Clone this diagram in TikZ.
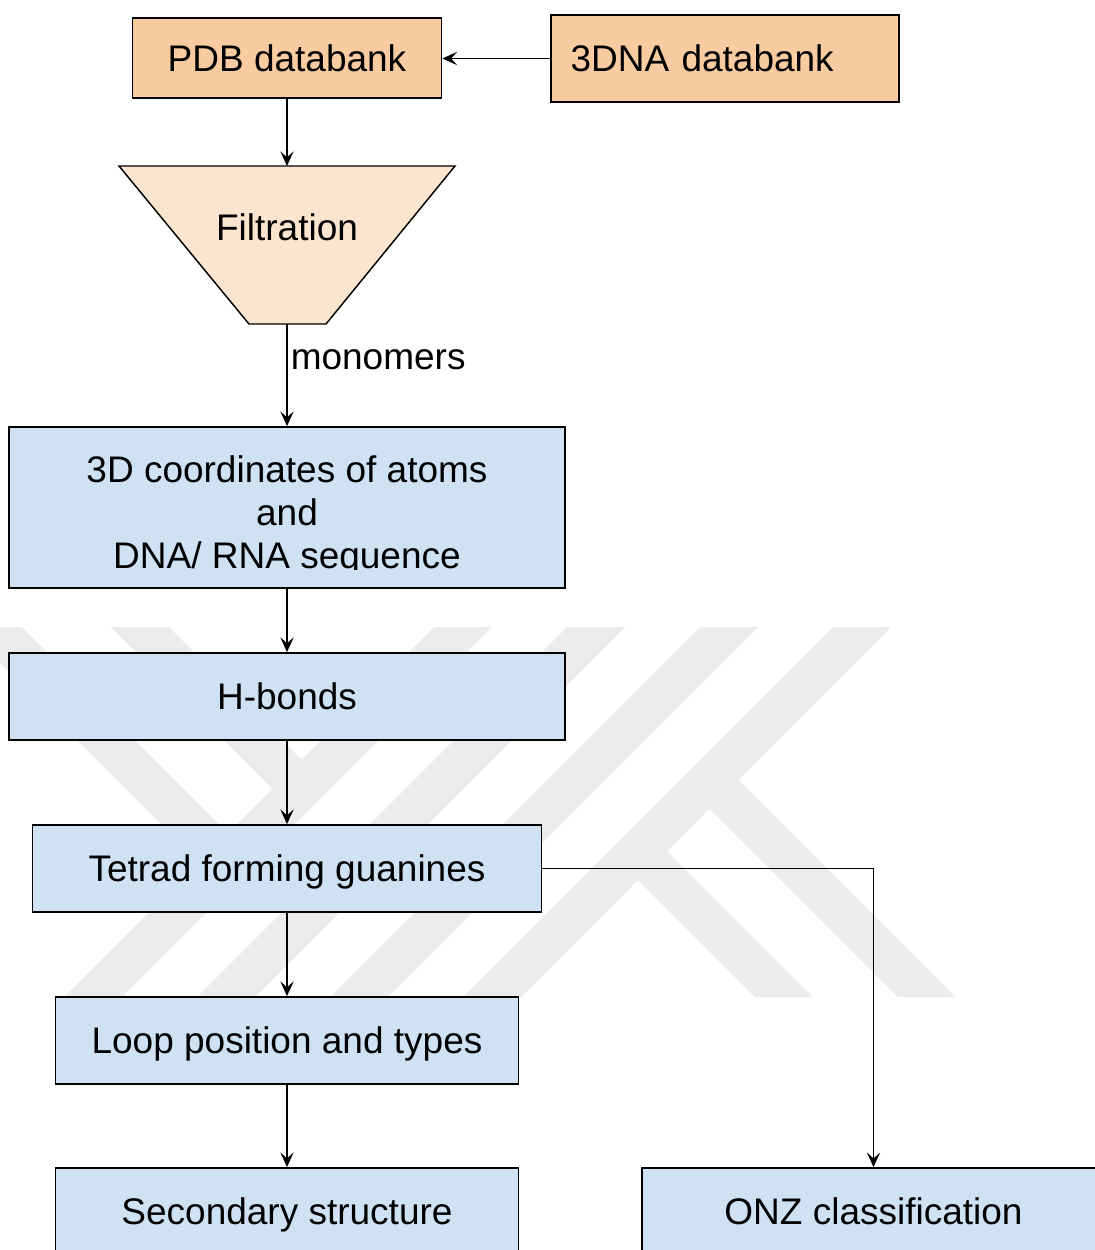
\documentclass[tikz,border=0pt]{standalone}
\usepackage{fontspec}
\setmainfont{Liberation Sans}
\usetikzlibrary{arrows.meta}
\definecolor{pdbfill}{RGB}{248,203,160}
\definecolor{filtfill}{RGB}{251,229,206}
\definecolor{stepfill}{RGB}{207,226,243}
\definecolor{markgray}{RGB}{236,236,236}
\begin{document}
\begin{tikzpicture}[x=0.75pt,y=-0.75pt,
  txt/.style={font=\fontsize{27.75pt}{32pt}\selectfont},
  flowbox/.style={txt, draw=black, line width=1.4pt, rectangle, inner sep=0pt,
                  text height=19.9pt, text depth=0pt},
  bluebox/.style={flowbox, fill=stepfill, minimum height=65.25pt},
  lbl/.style={txt, inner sep=0pt},
  conn/.style={line width=0.9pt, -{Stealth[length=11pt,width=10pt,inset=4.5pt]}},
  wm/.style={fill=markgray, draw=none}]

\useasboundingbox (0,0) rectangle (1095,1250);
\clip (0,0) rectangle (1095,1250);

% background emblem: diagonal bands
\fill[wm] (434,627) -- (492,627) -- (122,997) -- (64,997) -- cycle;
\fill[wm] (567,627) -- (625,627) -- (255,997) -- (197,997) -- cycle;
\fill[wm] (700,627) -- (758,627) -- (388,997) -- (330,997) -- cycle;
\fill[wm] (833,627) -- (891,627) -- (521,997) -- (463,997) -- cycle;
\fill[wm] (724,765) -- (956,997) -- (898,997) -- (695,794) -- cycle;
\fill[wm] (652.5,836.5) -- (813,997) -- (755,997) -- (623.5,865.5) -- cycle;
\fill[wm] (111,627) -- (169,627) -- (316,774) -- (287,803) -- cycle;
\fill[wm] (-36,627) -- (22,627) -- (242.5,847.5) -- (213.5,876.5) -- cycle;

% data sources
\node[flowbox, fill=pdbfill, minimum width=231.75pt, minimum height=60pt]
  (pdb) at (287,58) {PDB databank};
\node[flowbox, fill=pdbfill, minimum width=261pt, minimum height=65.25pt,
      text width=231.75pt, align=left, inner xsep=14.6pt]
  (dna) at (725,58.5) {3DNA databank};

% filtration funnel
\filldraw[fill=filtfill, draw=black, line width=1.1pt]
  (119,166) -- (455,166) -- (326,324) -- (249,324) -- cycle;
\node[lbl, text height=19.9pt, text depth=0pt] (filt) at (287,227) {Filtration};
\coordinate (filtin) at (287,166);
\coordinate (filtout) at (287,324);
\node[lbl, anchor=base west] (mono) at (290.5,369) {monomers};

% processing steps
\node[bluebox, minimum width=417pt, minimum height=120.75pt] (coord) at (287,507.5) {};
\begin{scope}
  \clip (9,427) rectangle (565,569);
  \node[lbl, anchor=base] (cl1) at (287,482) {3D coordinates of atoms};
  \node[lbl, anchor=base] (cl2) at (287,525) {and};
  \node[lbl, anchor=base] (cl3) at (287,568) {DNA/ RNA sequence};
\end{scope}
\node[bluebox, minimum width=417pt] (hb) at (287,696.5) {H-bonds};
\node[bluebox, minimum width=381.75pt] (tet) at (287,868.5) {Tetrad forming guanines};
\node[bluebox, minimum width=347.25pt] (loop) at (287,1040.5) {Loop position and types};
\node[bluebox, minimum width=347.25pt] (sec) at (287,1211.5) {Secondary structure};
\node[bluebox, minimum width=347.25pt] (onz) at (873.5,1211.5) {ONZ classification};

% connectors
\draw[conn] (dna.west) -- (dna.west -| pdb.east);
\draw[conn] (pdb.south) -- (filtin);
\draw[conn] (filtout) -- (coord.north);
\draw[conn] (coord.south) -- (hb.north);
\draw[conn] (hb.south) -- (tet.north);
\draw[conn] (tet.south) -- (loop.north);
\draw[conn] (loop.south) -- (sec.north);
\draw[conn] (tet.east) -| (onz.north);
\end{tikzpicture}
\end{document}
